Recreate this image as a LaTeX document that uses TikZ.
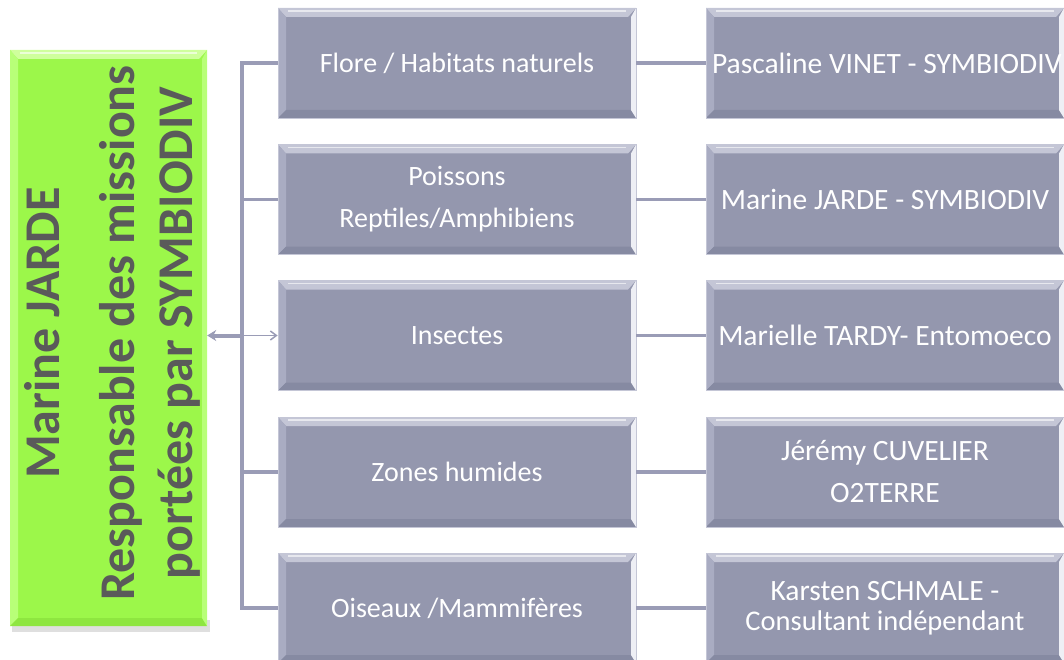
\documentclass[tikz,border=0pt]{standalone}
\usepackage{fontspec}
\setmainfont{Carlito}
\usetikzlibrary{arrows.meta}
\definecolor{boxfill}{HTML}{9497AE}
\definecolor{boxtop}{HTML}{C4C6D6}
\definecolor{boxleft}{HTML}{A9ACC2}
\definecolor{boxbot}{HTML}{868AA2}
\definecolor{boxright}{HTML}{EEEFF5}
\definecolor{greenfill}{HTML}{9CF74A}
\definecolor{greentop}{HTML}{CFFF9C}
\definecolor{greenleft}{HTML}{B8FF78}
\definecolor{greenbot}{HTML}{8EE640}
\definecolor{greentext}{HTML}{5A5A5A}
\definecolor{linecol}{HTML}{9A9CB6}
\tikzset{
  bevel/.style n args={4}{path picture={
    \path (path picture bounding box.north west) coordinate (@nw)
          (path picture bounding box.south east) coordinate (@se);
    \fill[#1] (@nw) -- (@nw -| @se) -- ([xshift=-8pt,yshift=-9pt]@nw -| @se) -- ([xshift=8pt,yshift=-9pt]@nw) -- cycle;
    \fill[#2] (@nw) -- ([xshift=8pt,yshift=-9pt]@nw) -- ([xshift=8pt,yshift=8pt]@se -| @nw) -- (@se -| @nw) -- cycle;
    \fill[#3] (@se -| @nw) -- ([xshift=8pt,yshift=8pt]@se -| @nw) -- ([xshift=-5pt,yshift=8pt]@se) -- (@se) -- cycle;
    \fill[#4] (@se) -- ([xshift=-5pt,yshift=8pt]@se) -- ([xshift=-5pt,yshift=-9pt]@nw -| @se) -- (@nw -| @se) -- cycle;
    \draw[white,opacity=0.6,line width=1.5pt] ([xshift=10pt,yshift=-3pt]@nw) -- ([xshift=-10pt,yshift=-3pt]@nw -| @se);
  }},
  graybox/.style={rectangle, inner sep=0pt, minimum width=358pt, minimum height=110pt,
    fill=boxfill, draw=boxtop, line width=0.8pt, text=white, font=\fontsize{28}{42}\selectfont, align=center,
    bevel={boxtop}{boxleft}{boxbot}{boxright}},
  rightbox/.style={graybox, font=\fontsize{29.5}{42}\selectfont},
  greenbox/.style={rectangle, inner sep=0pt, minimum width=197pt, minimum height=576pt,
    fill=greenfill, bevel={greentop}{greenleft}{greenbot}{greenleft}},
  conn/.style={draw=linecol, line width=3.5pt},
}
\begin{document}
\begin{tikzpicture}[x=1pt,y=-1pt]
\useasboundingbox (0,0) rectangle (1064,660);
% shadow of green box
\fill[black!25,opacity=0.5] (12,620) rectangle (210,632);
\node[greenbox] (chief) at (108.5,338) {};
\node[rotate=90, text=greentext, font=\bfseries\fontsize{50}{58}\selectfont, align=center, inner sep=0pt]
  (chieftext) at (112,333) {Marine JARDE\\[17pt]Responsable des missions\\portées par SYMBIODIV};

\node[graybox] (m1) at (457,63) {Flore / Habitats naturels};
\node[graybox] (m2) at (457,199.5) {Poissons\\Reptiles/Amphibiens};
\node[graybox] (m3) at (457,335.5) {Insectes};
\node[graybox] (m4) at (457,472) {Zones humides};
\node[graybox] (m5) at (457,608) {Oiseaux /Mammifères};

\node[rightbox] (r1) at (885,63) {\makebox[346pt][l]{Pascaline VINET - SYMBIODIV}};
\node[rightbox] (r2) at (885,199.5) {Marine JARDE - SYMBIODIV};
\node[rightbox] (r3) at (885,335.5) {Marielle TARDY- Entomoeco};
\node[rightbox] (r4) at (885,472) {Jérémy CUVELIER\\O2TERRE};
\node[rightbox] (r5) at (885,608) {Karsten SCHMALE -\\[-12pt]\fontsize{28.5}{42}\selectfont Consultant indépendant};

\coordinate (trunk) at (242,335.5);
\draw[conn] (m1.west) -- (m1.west -| trunk) -- (m5.west -| trunk) -- (m5.west);
\draw[conn] (m2.west -| trunk) -- (m2.west);
\draw[conn] (m4.west -| trunk) -- (m4.west);
\draw[draw=linecol, line width=4pt, {Stealth[length=9pt,width=11pt]}-] (chief.east |- trunk) -- (trunk);
\draw[draw=linecol, line width=1.5pt, -{Straight Barb[length=6pt,width=9pt]}] (trunk) -- (m3.west);
\foreach \i in {1,...,5} {\draw[conn] (m\i.east) -- (r\i.west);}
\end{tikzpicture}
\end{document}
